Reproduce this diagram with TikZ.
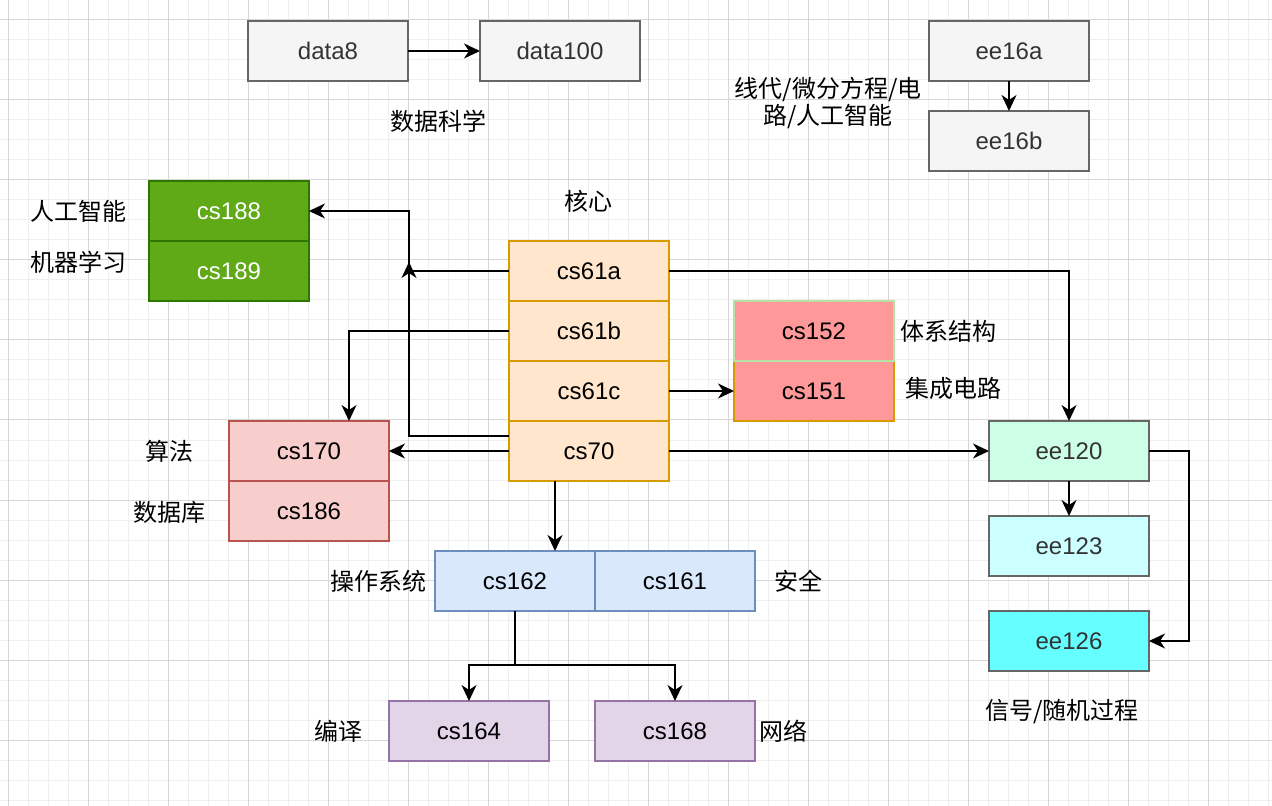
\documentclass[tikz,border=0pt]{standalone}
\usepackage{fontspec}
\setmainfont{Liberation Sans}
\newfontfamily\cjk{Noto Sans CJK SC}
\usepackage{xcolor}
\usepackage{tikz}
\usetikzlibrary{calc, positioning, arrows.meta}
\definecolor{gridminor}{HTML}{EFEFEF}
\definecolor{gridmajor}{HTML}{D6D6D6}
\definecolor{grayfill}{HTML}{F5F5F5}
\definecolor{graydraw}{HTML}{666666}
\definecolor{graytext}{HTML}{333333}
\definecolor{aifill}{HTML}{60A917}
\definecolor{aidraw}{HTML}{2D7600}
\definecolor{corefill}{HTML}{FFE6CC}
\definecolor{coredraw}{HTML}{D79B00}
\definecolor{archfill}{HTML}{FF9999}
\definecolor{archdraw}{HTML}{B9E0A5}
\definecolor{algofill}{HTML}{F8CECC}
\definecolor{algodraw}{HTML}{B85450}
\definecolor{sigafill}{HTML}{CCFFE6}
\definecolor{sigbfill}{HTML}{CCFFFF}
\definecolor{sigcfill}{HTML}{66FFFF}
\definecolor{osfill}{HTML}{DAE8FC}
\definecolor{osdraw}{HTML}{6C8EBF}
\definecolor{netfill}{HTML}{E1D5E7}
\definecolor{netdraw}{HTML}{9673A6}
\tikzset{
  course/.style={draw, line width=0.75pt, outer sep=0pt, inner sep=0pt,
    minimum width=80pt, minimum height=30pt},
  graycourse/.style={course, fill=grayfill, draw=graydraw, text=graytext},
  link/.style={-{Stealth[length=8pt, width=7.5pt, inset=2.5pt]}, line width=1pt},
  note/.style={font={\fontsize{12pt}{13.5pt}\selectfont\cjk}, align=center, inner sep=0pt}
}

\begin{document}
\begin{tikzpicture}[
    x=0.5pt, y=-0.5pt,
    font={\fontsize{12pt}{14pt}\selectfont},
    corecourse/.style={course, fill=corefill, draw=coredraw},
    node distance=15pt
  ]

  % background grid
  \fill[white] (0,0) rectangle (1272,806);
  \useasboundingbox (0,0) rectangle (1272,806);
  \foreach \gx in {8,28,...,1268} \draw[gridminor, line width=0.5pt] (\gx,0) -- (\gx,806);
  \foreach \gy in {0,20,...,800} \draw[gridminor, line width=0.5pt] (0,\gy) -- (1272,\gy);
  \foreach \gx in {8,88,...,1268} \draw[gridmajor, line width=0.5pt] (\gx,0) -- (\gx,806);
  \foreach \gy in {20,100,...,800} \draw[gridmajor, line width=0.5pt] (0,\gy) -- (1272,\gy);

  % data science
  \node[graycourse] (data8) at (328,51) {data8};
  \node[graycourse] (data100) at (560,51) {data100};
  \node[note] (dsci) at (438,121) {数据科学};

  % ee16
  \node[graycourse] (ee16a) at (1009,51) {ee16a};
  \node[graycourse, below=of ee16a] (ee16b) {ee16b};
  \node[note] (eebase) at (828,103) {线代/微分方程/电\\路/人工智能};

  % core
  \node[note] (core) at (588,201) {核心};
  \node[corecourse] (cs61a) at (589,271) {cs61a};
  \node[corecourse, below=0pt of cs61a] (cs61b) {cs61b};
  \node[corecourse, below=0pt of cs61b] (cs61c) {cs61c};
  \node[corecourse, below=0pt of cs61c] (cs70) {cs70};

  % ai
  \node[course, fill=aifill, draw=aidraw, text=white] (cs188) at (229,211) {cs188};
  \node[course, fill=aifill, draw=aidraw, text=white, below=0pt of cs188] (cs189) {cs189};
  \node[note] (ai) at (78,211) {人工智能};
  \node[note] (ml) at (78,262) {机器学习};

  % architecture
  \node[course, fill=archfill, draw=coredraw] (cs151) at (814,391) {cs151};
  \node[course, fill=archfill, draw=archdraw, above=0pt of cs151] (cs152) {cs152};
  \node[note] (arch) at (948,331) {体系结构};
  \node[note] (ic) at (953,388) {集成电路};

  % algorithms
  \node[course, fill=algofill, draw=algodraw] (cs170) at (309,451) {cs170};
  \node[course, fill=algofill, draw=algodraw, below=0pt of cs170] (cs186) {cs186};
  \node[note] (algo) at (169,451) {算法};
  \node[note] (db) at (169,512) {数据库};

  % signals
  \node[graycourse, fill=sigafill] (ee120) at (1069,451) {ee120};
  \node[graycourse, fill=sigbfill, below=17.5pt of ee120] (ee123) {ee123};
  \node[graycourse, fill=sigcfill, below=17.5pt of ee123] (ee126) {ee126};
  \node[note] (sig) at (1062,712) {信号/随机过程};

  % systems
  \node[course, fill=osfill, draw=osdraw] (cs162) at (515,581) {cs162};
  \node[course, fill=osfill, draw=osdraw, right=0pt of cs162] (cs161) {cs161};
  \node[note] (os) at (378,581) {操作系统};
  \node[note] (sec) at (798,581) {安全};
  \node[course, fill=netfill, draw=netdraw] (cs164) at (469,731) {cs164};
  \node[course, fill=netfill, draw=netdraw] (cs168) at (675,731) {cs168};
  \node[note] (comp) at (338,731) {编译};
  \node[note] (net) at (783,731) {网络};

  \coordinate (aiturn) at (409,211);
  \coordinate (aiup) at (409,262);
  \coordinate (sigturn) at (1189,451);
  \coordinate (osfork) at (515,665);

  \draw[link] (data8) -- (data100);
  \draw[link] (ee16a) -- (ee16b);

  \draw[link] ([yshift=7.5pt]cs70.west) -| (aiturn) -- (cs188.east);
  \draw[link] (cs61a.west) -| (aiup);
  \draw[link] (cs61b.west) -| ([xshift=20pt]cs170.north);
  \draw[link] (cs70.west) -- (cs170.east);
  \draw[link] (cs61c.east) -- (cs151.west);
  \draw[link] (cs61a.east) -| (ee120.north);
  \draw[link] (cs70.east) -- (ee120.west);
  \draw[link] ([xshift=-17pt]cs70.south) -- ([xshift=-17pt]cs70.south |- cs162.north);

  \draw[link] (ee120) -- (ee123);
  \draw[link] (ee120.east) -- (sigturn) |- (ee126.east);

  \draw[link] (cs162.south) -- (osfork) -| (cs164.north);
  \draw[link] (osfork) -| (cs168.north);

\end{tikzpicture}
\end{document}
